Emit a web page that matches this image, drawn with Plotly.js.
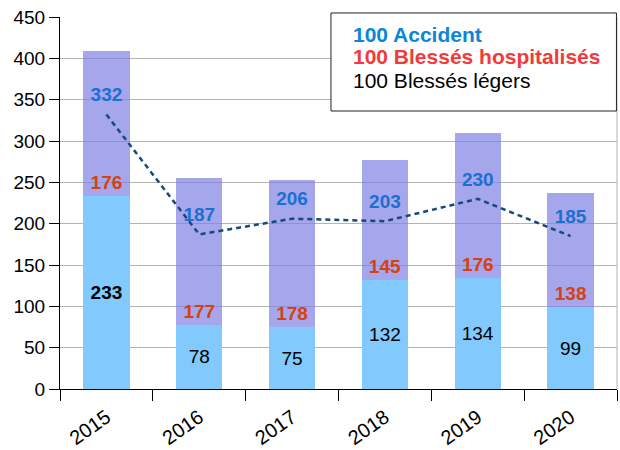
<!DOCTYPE html>
<html>
<head>
<meta charset="utf-8">
<script src="https://cdn.plot.ly/plotly-3.0.1.min.js"></script>
<style>html,body{margin:0;padding:0;background:#fff;}#chart{width:620px;height:450px;}</style>
</head>
<body>
<div id="chart"></div>
<script>
const years = ["2015", "2016", "2017", "2018", "2019", "2020"];
const blessesLegers = [233, 78, 75, 132, 134, 99];
const blessesHospitalises = [176, 177, 178, 145, 176, 138];
const accidents = [332, 187, 206, 203, 230, 185];
const legendLines = ["100 Accident", "100 Blessés hospitalisés", "100 Blessés légers"];

const FONT = "Liberation Sans, Arial, sans-serif";

const traces = [
  {
    type: "bar", x: years, y: blessesLegers, name: "Blessés légers",
    marker: {color: "#82c9fd"},
    text: blessesLegers.map((v, i) => i === 0 ? "<b>" + v + "</b>" : String(v)),
    textposition: "inside", insidetextanchor: "middle", constraintext: "none",
    textfont: {family: FONT, size: 19, color: "#000"},
    width: 0.5, showlegend: false, hoverinfo: "skip"
  },
  {
    type: "bar", x: years, y: blessesHospitalises, name: "Blessés hospitalisés",
    marker: {color: "rgba(128,128,228,0.7)"},
    text: blessesHospitalises.map(v => "<b>" + v + "</b>"),
    textposition: "inside", insidetextanchor: "start", constraintext: "none",
    textfont: {family: FONT, size: 19, color: "#d5420f"},
    width: 0.5, showlegend: false, hoverinfo: "skip"
  },
  {
    type: "scatter", mode: "lines+markers+text", x: years, y: accidents, name: "Accident",
    line: {color: "#17497e", width: 2.5, dash: "5px,4px"},
    marker: {size: 12, opacity: 0, color: "#17497e"},
    text: accidents.map(v => "<b>" + v + "</b>"),
    textposition: "top center",
    textfont: {family: FONT, size: 19, color: "#1a70d0"},
    showlegend: false, hoverinfo: "skip"
  }
];

const legendColors = ["#0a86d8", "#f23a3a", "#000"];
const legendBold = [true, true, false];
const lineY = [0.9543, 0.8925, 0.8306];

const annotations = legendLines.map((t, i) => ({
  xref: "paper", yref: "paper", x: 0.5224, y: lineY[i], xanchor: "left", yanchor: "middle",
  showarrow: false, align: "left",
  font: {family: FONT, size: 21, color: legendColors[i]},
  text: legendBold[i] ? "<b>" + t + "</b>" : t
}));

const layout = {
  width: 620, height: 450,
  margin: {l: 60, r: 3, t: 17, b: 61},
  paper_bgcolor: "#fff", plot_bgcolor: "#fff",
  barmode: "stack",
  font: {family: FONT, size: 18, color: "#000"},
  xaxis: {
    type: "category", tickson: "boundaries", ticks: "outside", ticklen: 11, tickcolor: "#000",
    tickangle: -35, ticklabelstandoff: 8, showline: true, linecolor: "#000", linewidth: 1,
    showgrid: false, tickfont: {family: FONT, size: 20, color: "#000"}
  },
  yaxis: {
    range: [0, 450], dtick: 50, ticks: "outside", ticklen: 10, tickcolor: "#000",
    showline: true, linecolor: "#000", linewidth: 1,
    showgrid: true, gridcolor: "#b4b4b4", gridwidth: 1, zeroline: false,
    tickfont: {family: FONT, size: 19, color: "#000"}
  },
  shapes: [
    {type: "line", xref: "paper", yref: "paper", x0: 1, x1: 1, y0: 0, y1: 1, line: {color: "#b4b4b4", width: 1}},
    {type: "rect", xref: "paper", yref: "paper", x0: 0.4865, x1: 0.999, y0: 0.7473, y1: 1.0108,
     fillcolor: "#fff", line: {color: "#222", width: 1}, layer: "above"}
  ],
  annotations: annotations
};

Plotly.newPlot("chart", traces, layout, {displayModeBar: false, staticPlot: true});
</script>
</body>
</html>
